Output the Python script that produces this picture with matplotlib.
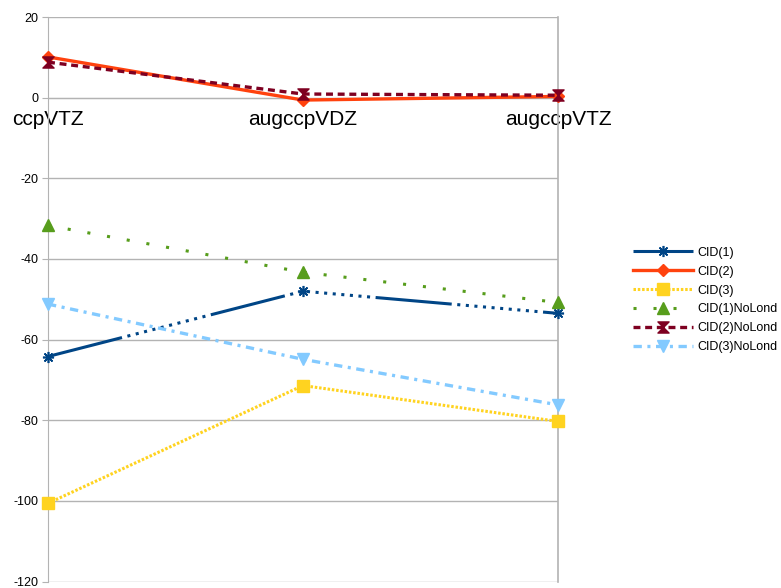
import matplotlib
matplotlib.use("Agg")
import matplotlib.pyplot as plt
from matplotlib.path import Path

plt.rcParams['font.family'] = ['Liberation Sans', 'DejaVu Sans']
plt.rcParams['lines.scale_dashes'] = False
plt.rcParams['axes.unicode_minus'] = False

# data
categories = ['ccpVTZ', 'augccpVDZ', 'augccpVTZ']
cid1 = [-64.2, -48.0, -53.5]
cid2 = [10.1, -0.6, 0.3]
cid3 = [-100.6, -71.4, -80.3]
cid1_nolond = [-31.7, -43.3, -50.8]
cid2_nolond = [8.8, 0.9, 0.6]
cid3_nolond = [-51.2, -64.9, -76.2]
yticks = [-120, -100, -80, -60, -40, -20, 0, 20]

hourglass = Path([(-1, 1), (1, 1), (-1, -1), (1, -1), (-1, 1)],
                 [Path.MOVETO, Path.LINETO, Path.LINETO, Path.LINETO, Path.CLOSEPOLY])

fig = plt.figure(figsize=(7.81, 5.88), dpi=100)
ax = fig.add_axes([48 / 781, 6.5 / 588, 510 / 781, 564.5 / 588])

# x axis sits on the zero line (set before tick styling, it resets ticks)
ax.spines['bottom'].set_position(('data', 0))

x = range(len(categories))
grey = '#b3b3b3'

ax.plot(x, cid1, color='#004586', lw=2.2, dashes=[55, 4.0] + [2.2, 4.0] * 10,
        marker=(8, 2, 0), ms=8, mew=1.2, label='CID(1)', clip_on=False, zorder=3)
ax.plot(x, cid2, color='#ff420e', lw=2.4, marker='D', ms=6,
        label='CID(2)', clip_on=False, zorder=3)
ax.plot(x, cid3, color='#ffd320', lw=2.2, dashes=[1.8, 1.3], marker='s', ms=8,
        label='CID(3)', clip_on=False, zorder=3)
ax.plot(x, cid1_nolond, color='#579d1c', lw=2.2, dashes=[2.2, 12.2], marker='^', ms=8,
        label='CID(1)NoLond', clip_on=False, zorder=3)
ax.plot(x, cid2_nolond, color='#7e0021', lw=2.4, dashes=[5.0, 3.4], marker=hourglass, ms=8,
        label='CID(2)NoLond', clip_on=False, zorder=3)
ax.plot(x, cid3_nolond, color='#83caff', lw=2.4, dashes=[6, 4, 2.2, 4], marker='v', ms=8,
        label='CID(3)NoLond', clip_on=False, zorder=3)

ax.set_xlim(0, 2)
ax.set_ylim(-120, 20)
ax.set_yticks(yticks)
ax.set_xticks(list(x))
ax.set_xticklabels(categories)
ax.yaxis.grid(True, color=grey, lw=1)
ax.set_axisbelow(True)

ax.spines['bottom'].set_color(grey)
ax.spines['top'].set_visible(False)
ax.spines['left'].set_color(grey)
ax.spines['right'].set_color(grey)
ax.spines['right'].set_linewidth(1.2)
ax.tick_params(axis='x', length=0, pad=9, labelsize=15)
ax.tick_params(axis='y', length=4, color=grey, labelsize=9, pad=3)

fig.legend(loc='center left', bbox_to_anchor=(628 / 781, 1 - 300 / 588), frameon=False,
           fontsize=9, handlelength=4.8, handletextpad=0.35, labelspacing=0.55,
           borderaxespad=0)

fig.savefig('out.png', dpi=100)
